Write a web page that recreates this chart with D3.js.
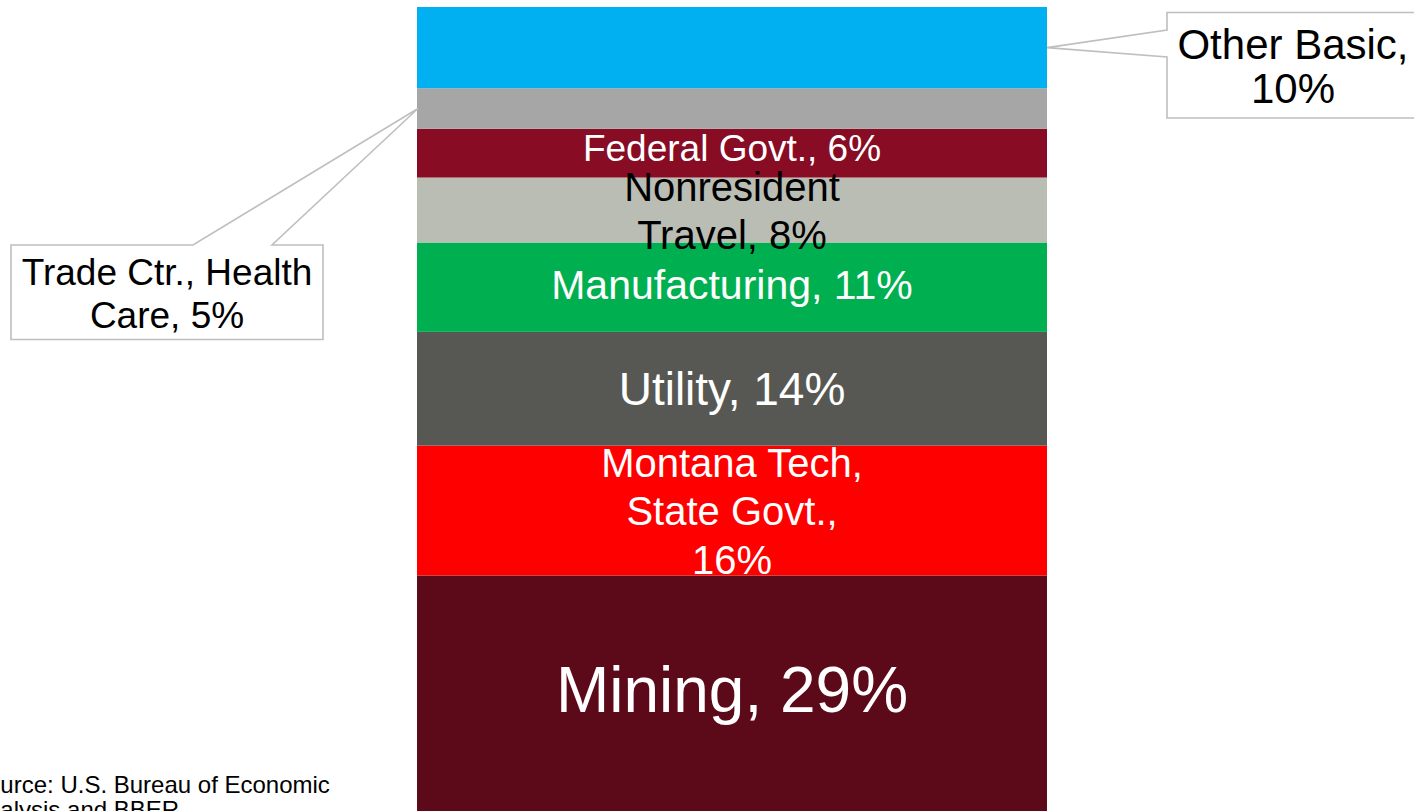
<!DOCTYPE html>
<html>
<head>
<meta charset="utf-8">
<script src="https://cdn.jsdelivr.net/npm/d3@7"></script>
<style>
  html, body { margin: 0; padding: 0; background: #fff; overflow: hidden; }
  svg { display: block; font-family: "Liberation Sans", Arial, sans-serif; }
</style>
</head>
<body>
<svg id="chart" width="1414" height="811"></svg>
<script>
// ---- data (bottom to top) ----
const categories = ["Mining", "Montana Tech, State Govt.", "Utility", "Manufacturing",
                    "Nonresident Travel", "Federal Govt.", "Trade Ctr., Health Care", "Other Basic"];
const shares = [29, 16, 14, 11, 8, 6, 5, 10];
const labelLines = [
  ["Mining, 29%"],
  ["Montana Tech,", "State Govt.,", "16%"],
  ["Utility, 14%"],
  ["Manufacturing, 11%"],
  ["Nonresident", "Travel, 8%"],
  ["Federal Govt., 6%"],
  ["Trade Ctr., Health", "Care, 5%"],
  ["Other Basic,", "10%"]
];
const sourceLines = ["Source: U.S. Bureau of Economic", "Analysis and BBER"];

// ---- styles ----
const colors = ["#5C0A19", "#FF0000", "#575853", "#00B050", "#BABDB3", "#870C24", "#A6A6A6", "#00B0F0"];
const textColors = ["#fff", "#fff", "#fff", "#fff", "#000", "#fff", "#000", "#000"];
const fontSizes = [64, 40, 46, 41, 40, 37, 37, 42];
const lineHeights = [64, 48.5, 46, 41, 48, 37, 43, 44];
const baselineShift = [0.3, 0.37, 0.35, 0.3, 0.37, 0.2, 0, 0];
const calloutIdx = [6, 7];

const svg = d3.select("#chart");

// stacked layout
const rows = categories.map((c, i) => ({ cat: c, v: shares[i], i }));
let acc = 0;
rows.forEach(r => { r.y0 = acc; acc += r.v; r.y1 = acc; });
const total = acc;

const x = d3.scaleBand().domain(["Basic"]).range([417, 1047]).padding(0);
const y = d3.scaleLinear().domain([0, total]).range([811, 7]);

svg.append("g").selectAll("rect")
  .data(rows)
  .join("rect")
  .attr("x", x("Basic"))
  .attr("width", x.bandwidth())
  .attr("y", d => y(d.y1))
  .attr("height", d => y(d.y0) - y(d.y1))
  .attr("fill", d => colors[d.i]);

// in-bar labels
const inBar = rows.filter(d => !calloutIdx.includes(d.i));
const lg = svg.append("g").attr("text-anchor", "middle");
inBar.forEach(d => {
  const cx = x("Basic") + x.bandwidth() / 2;
  const cy = (y(d.y0) + y(d.y1)) / 2;
  const fs = fontSizes[d.i], lh = lineHeights[d.i];
  const lines = labelLines[d.i];
  const base = cy + baselineShift[d.i] * fs - (lines.length - 1) * lh / 2;
  const t = lg.append("text")
    .attr("font-size", fs)
    .attr("fill", textColors[d.i]);
  lines.forEach((ln, k) => {
    t.append("tspan").attr("x", cx).attr("y", base + k * lh).text(ln);
  });
});

// callouts
function callout(d, box, side) {
  const mid = (y(d.y0) + y(d.y1)) / 2;
  const g = svg.append("g");
  let path;
  if (side === "right") {
    const tipX = x("Basic") + x.bandwidth();
    path = `M${box.x0},${box.y0} L${box.x1},${box.y0} L${box.x1},${box.y1} L${box.x0},${box.y1}
            L${box.x0},${box.n1} L${tipX},${mid} L${box.x0},${box.n0} Z`;
  } else {
    const tipX = x("Basic") + 1;
    path = `M${box.x0},${box.y0} L${box.n0},${box.y0} L${tipX},${mid} L${box.n1},${box.y0}
            L${box.x1},${box.y0} L${box.x1},${box.y1} L${box.x0},${box.y1} Z`;
  }
  g.append("path").attr("d", path).attr("fill", "#fff")
    .attr("stroke", "#BFBFBF").attr("stroke-width", 1.6);
  const t = g.append("text").attr("text-anchor", "middle")
    .attr("font-size", fontSizes[d.i]).attr("fill", textColors[d.i]);
  labelLines[d.i].forEach((ln, k) => {
    t.append("tspan").attr("x", box.tx).attr("y", box.ty + k * lineHeights[d.i]).text(ln);
  });
}
callout(rows[7], { x0: 1167, x1: 1419, y0: 12.5, y1: 118, n0: 30, n1: 57, tx: 1293, ty: 59 }, "right");
callout(rows[6], { x0: 11, x1: 323, y0: 245, y1: 339.5, n0: 193, n1: 272, tx: 167, ty: 285 }, "left");

// source note
const st = svg.append("text").attr("font-size", 24).attr("fill", "#000");
sourceLines.forEach((ln, k) => {
  st.append("tspan").attr("x", -29).attr("y", 793 + k * 25).text(ln);
});
</script>
</body>
</html>
